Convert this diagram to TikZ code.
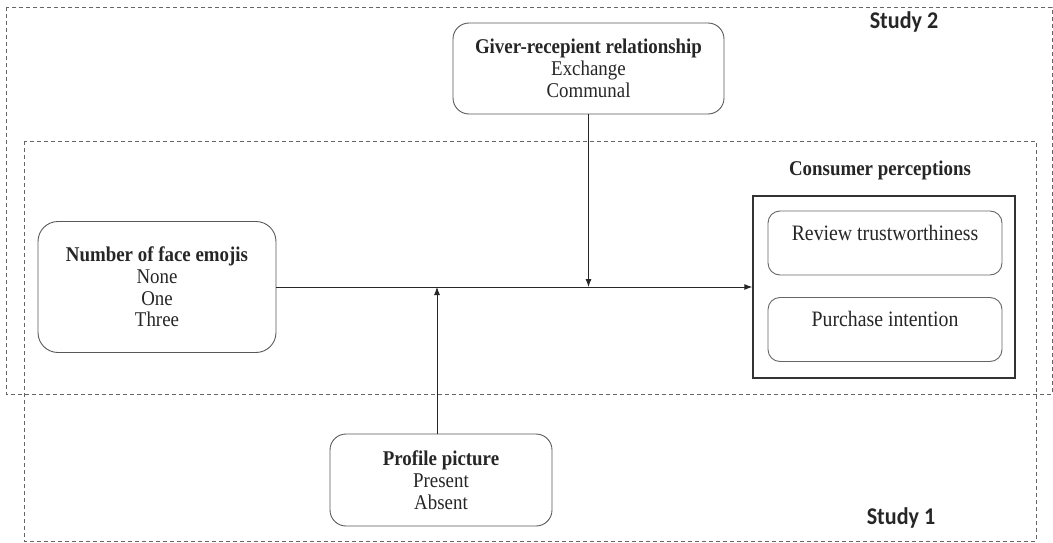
\documentclass[tikz,border=0pt]{standalone}
\usepackage{fontspec}
\setmainfont{Liberation Serif}[FakeStretch=0.9]
\newfontfamily\studyfont{Carlito}[FakeStretch=0.92]
\usetikzlibrary{arrows.meta}
\begin{document}
\begin{tikzpicture}[x=1pt,y=-1pt,
  txt/.style={font=\fontsize{21}{21.8}\selectfont, align=center, text=black!85},
  rbox/.style={draw=black!65, line width=0.9pt, rounded corners=16pt, inner sep=0pt, txt},
  inbox/.style={draw=black!60, line width=0.9pt, rounded corners=12pt, inner sep=0pt,
                minimum width=234pt, minimum height=64pt},
  region/.style={draw=black!60, dash pattern=on 4pt off 3pt, line width=0.9pt},
  arr/.style={-{Latex[length=8pt,width=6pt]}, line width=0.9pt, draw=black!85},
  study/.style={font=\studyfont\bfseries\fontsize{24}{26}\selectfont, text=black!85}
]
\useasboundingbox (0,0) rectangle (1053,543);
% study regions
\draw[region] (6,7) rectangle (1052,394);
\draw[region] (24,141) rectangle (1036,541);
\node[study] (s2) at (904,22) {Study 2};
\node[study] (s1) at (901,518) {Study 1};
% nodes
\node[rbox, minimum width=271pt, minimum height=91pt] (giver) at (588.5,68.5)
  {\textbf{Giver-recepient relationship}\\Exchange\\Communal};
\node[rbox, rounded corners=20pt, minimum width=238pt, minimum height=131pt] (emoji) at (157,287)
  {\textbf{Number of face emojis}\\None\\One\\Three};
\node[rbox, minimum width=222pt, minimum height=92pt] (prof) at (441,480)
  {\textbf{Profile picture}\\Present\\Absent};
\node[draw=black!80, line width=1.4pt, minimum width=262pt, minimum height=182pt, inner sep=0pt] (cons) at (884,287) {};
\node[txt] (constitle) at (880,170) {\textbf{Consumer perceptions}};
\node[inbox] (rev) at (885,243) {};
\node[txt, font=\fontsize{22}{23}\selectfont] (revtxt) at (885,233) {Review trustworthiness};
\node[inbox] (pur) at (885,329.5) {};
\node[txt, font=\fontsize{22}{23}\selectfont] (purtxt) at (885,319) {Purchase intention};
% connectors
\draw[arr] (emoji.east) -- (cons.west);
\coordinate (jg) at (giver.south |- cons.west);
\draw[arr] (giver.south) -- (jg);
\coordinate (pb) at ([xshift=-4pt]prof.north);
\coordinate (jp) at (pb |- cons.west);
\draw[arr] (pb) -- (jp);
\end{tikzpicture}
\end{document}
